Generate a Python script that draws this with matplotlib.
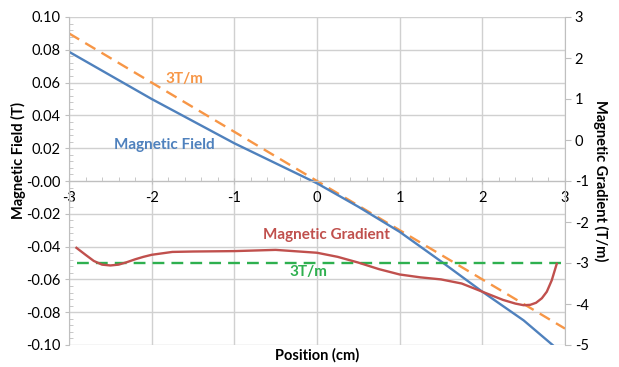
import matplotlib
matplotlib.use("Agg")
import matplotlib.pyplot as plt
from matplotlib.ticker import MultipleLocator, FormatStrFormatter

plt.rcParams['font.family'] = ['Lato', 'DejaVu Sans']
plt.rcParams['axes.unicode_minus'] = False

# magnetic field along the axis (T)
field_x = [-3.0, -2.0, -1.0, 0.0, 0.5, 1.0, 1.5, 2.0, 2.5, 2.85]
field_t = [0.0788, 0.050, 0.023, -0.0014, -0.0157, -0.031, -0.049, -0.0675, -0.085, -0.100]

# reference 3 T/m field line
ref_x = [-3.0, 3.0]
ref_t = [0.09, -0.09]

# magnetic gradient (T/m), right axis
grad_x = [-2.91, -2.8, -2.7, -2.6, -2.5, -2.4, -2.3, -2.2, -2.1, -2.0, -1.75, -1.5,
          -1.0, -0.5, 0.0, 0.25, 0.5, 0.75, 1.0, 1.25, 1.5, 1.75, 2.0, 2.25,
          2.4, 2.5, 2.58, 2.65, 2.72, 2.78, 2.84, 2.9]
grad_tm = [-2.63, -2.80, -2.95, -3.04, -3.06, -3.04, -2.98, -2.91, -2.85, -2.80, -2.73, -2.72,
           -2.71, -2.68, -2.75, -2.85, -2.99, -3.15, -3.28, -3.35, -3.40, -3.50, -3.70, -3.90,
           -3.99, -4.03, -4.02, -3.97, -3.86, -3.70, -3.42, -3.02]

# target gradient line
target_x = [-2.9, 3.0]
target_tm = [-3.0, -3.0]

BLUE = '#4f81bd'
ORANGE = '#f79646'
RED = '#c0504d'
GREEN = '#2eb04f'
GRID = '#d0d0d0'
SPINE = '#bfbfbf'

fig = plt.figure(figsize=(6.19, 3.67), dpi=100)
ax = fig.add_axes([69 / 619, 22 / 367, 496 / 619, 328 / 367])
ax2 = ax.twinx()

ax.set_xlim(-3, 3)
ax.set_ylim(-0.10, 0.10)
ax2.set_ylim(-5, 3)

ax.xaxis.set_major_locator(MultipleLocator(1))
ax.xaxis.set_minor_locator(MultipleLocator(0.2))
ax.yaxis.set_major_locator(MultipleLocator(0.02))
ax.yaxis.set_minor_locator(MultipleLocator(0.004))
ax2.yaxis.set_major_locator(MultipleLocator(1))
ax.yaxis.set_major_formatter(FormatStrFormatter('%.2f'))

ax.grid(True, which='major', color=GRID, lw=1.0)
ax.set_axisbelow(True)

for a in (ax, ax2):
    a.spines['top'].set_visible(False)
ax.spines['right'].set_visible(False)
ax2.spines['left'].set_visible(False)
ax2.spines['bottom'].set_visible(False)
ax.spines['left'].set_color(SPINE)
ax2.spines['right'].set_color(SPINE)
ax.spines['bottom'].set_position(('data', 0))
ax.spines['bottom'].set_color(SPINE)

ax.tick_params(axis='y', which='major', direction='out', length=3, color=SPINE,
               labelsize=10.5, pad=3)
ax.tick_params(axis='y', which='minor', direction='in', length=3, color=SPINE)
ax.tick_params(axis='x', which='major', direction='inout', length=5, color=SPINE,
               labelsize=10.5, pad=5)
ax.tick_params(axis='x', which='minor', direction='in', length=3, color=SPINE)
ax2.tick_params(axis='y', which='major', direction='out', length=4, color=SPINE,
                labelsize=10.5, pad=3)

ax.plot(ref_x, ref_t, color=ORANGE, lw=1.7, dashes=(5, 3))
ax.plot(field_x, field_t, color=BLUE, lw=1.7)
ax2.plot(target_x, target_tm, color=GREEN, lw=1.7, dashes=(5, 3))
ax2.plot(grad_x, grad_tm, color=RED, lw=1.7)

ax.text(-1.6, 0.062, '3T/m', color=ORANGE, fontsize=11, fontweight='bold',
        ha='center', va='center')
ax.text(-1.85, 0.022, 'Magnetic Field', color=BLUE, fontsize=11, fontweight='bold',
        ha='center', va='center')
ax.text(0.11, -0.033, 'Magnetic Gradient', color=RED, fontsize=11, fontweight='bold',
        ha='center', va='center')
ax.text(-0.1, -0.0555, '3T/m', color=GREEN, fontsize=11, fontweight='bold',
        ha='center', va='center')

ax.set_ylabel('Magnetic Field (T)', fontsize=10.5, fontweight='bold', va='center')
ax.yaxis.set_label_coords(-0.101, 0.564)
ax2.set_ylabel('Magnetic Gradient (T/m)', fontsize=10.5, fontweight='bold',
               rotation=270, va='center')
ax2.yaxis.set_label_coords(1.072, 0.5)
ax.set_xlabel('Position (cm)', fontsize=10.5, fontweight='bold', va='center')
ax.xaxis.set_label_coords(0.5, -0.03)

fig.savefig('out.png', dpi=100)
